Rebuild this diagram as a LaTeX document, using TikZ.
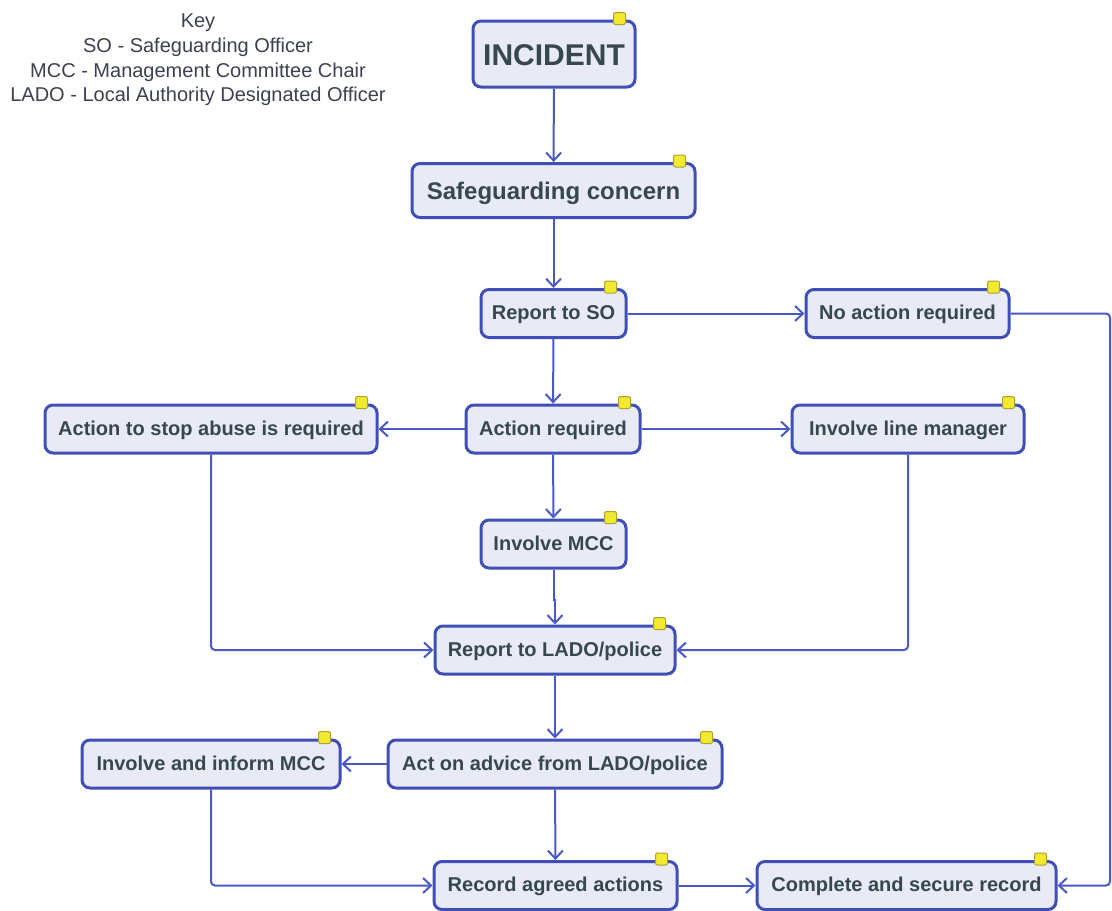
\documentclass[tikz,border=0pt]{standalone}
\usepackage{fontspec}
\setmainfont{Liberation Sans}
\usetikzlibrary{arrows.meta,calc}
\definecolor{bord}{HTML}{3F4FB5}
\definecolor{linec}{HTML}{4A5AC4}
\definecolor{boxfill}{HTML}{E8EAF6}
\definecolor{txt}{HTML}{37474F}
\definecolor{keytxt}{HTML}{3C4050}
\definecolor{yel}{HTML}{F2EA2E}
\definecolor{yelb}{HTML}{B0A030}
\tikzset{
  box/.style={draw=bord, line width=3pt, fill=boxfill, rounded corners=8pt,
    text=txt, font=\fontsize{20}{24}\selectfont\bfseries, minimum height=48pt,
    inner xsep=6pt, inner ysep=0pt, text height=16pt, text depth=4pt},
  marker/.style={draw=yelb, line width=1pt, fill=yel, rounded corners=2pt,
    minimum size=12pt, inner sep=0pt},
  conn/.style={draw=linec, line width=2pt, rounded corners=4pt,
    -{Straight Barb[length=8pt,width=15pt,line width=2pt]}},
}
\begin{document}
\begin{tikzpicture}[x=1pt,y=-1pt]
\useasboundingbox (0,0) rectangle (1112,911);
\node[text=keytxt, align=center, font=\fontsize{20}{24.7}\selectfont, inner sep=0pt] (key) at (198,60)
  {Key\\SO - Safeguarding Officer\\MCC - Management Committee Chair\\LADO - Local Authority Designated Officer};

\node[box, minimum width=162pt, minimum height=66pt, text height=23pt, text depth=0pt, font=\fontsize{30}{36}\selectfont\bfseries] (inc) at (554,54) {INCIDENT};
\node[box, minimum width=283pt, minimum height=54pt, text height=22pt, text depth=4.4pt, font=\fontsize{24}{29}\selectfont\bfseries] (sg) at (553.5,190.5) {Safeguarding concern};
\node[box, minimum width=145pt] (so) at (553.5,313.5) {Report to SO};
\node[box, minimum width=203pt] (noact) at (907.5,313.5) {No action required};
\node[box, minimum width=332pt] (stop) at (211,429) {Action to stop abuse is required};
\node[box, minimum width=174pt] (act) at (553,429) {Action required};
\node[box, minimum width=232pt] (line) at (908,429) {Involve line manager};
\node[box, minimum width=145pt] (mcc) at (553.5,544) {Involve MCC};
\node[box, minimum width=240pt] (lado) at (555,650) {Report to LADO/police};
\node[box, minimum width=258pt] (inform) at (211,764) {Involve and inform MCC};
\node[box, minimum width=334pt] (advice) at (555,764) {Act on advice from LADO/police};
\node[box, minimum width=243pt] (rec) at (555.5,885.5) {Record agreed actions};
\node[box, minimum width=299pt] (comp) at (906.5,885.5) {Complete and secure record};

\foreach \n in {inc,sg,so,noact,stop,act,line,mcc,lado,inform,advice,rec,comp}
  \node[marker] at ([shift={(-17pt,1pt)}]\n.north east) {};

\coordinate (rc) at (1110,313.5);
\draw[conn] (inc) -- (sg);
\draw[conn] (sg) -- (so);
\draw[conn] (so) -- (noact);
\draw[conn] (so) -- (act);
\draw[conn] (noact.east) -- (rc) |- (comp.east);
\draw[conn] (act) -- (stop);
\draw[conn] (act) -- (line);
\draw[conn] (act) -- (mcc);
\draw[conn, rounded corners=0pt] (mcc.south) -- ++(0,30) -- ++(1.5,0) -- (lado.north);
\draw[conn] (stop.south) |- (lado.west);
\draw[conn] (line.south) |- (lado.east);
\draw[conn] (lado) -- (advice);
\draw[conn] (advice) -- (inform);
\draw[conn] (advice) -- (rec);
\draw[conn] (inform.south) |- (rec.west);
\draw[conn] (rec) -- (comp);
\end{tikzpicture}
\end{document}
